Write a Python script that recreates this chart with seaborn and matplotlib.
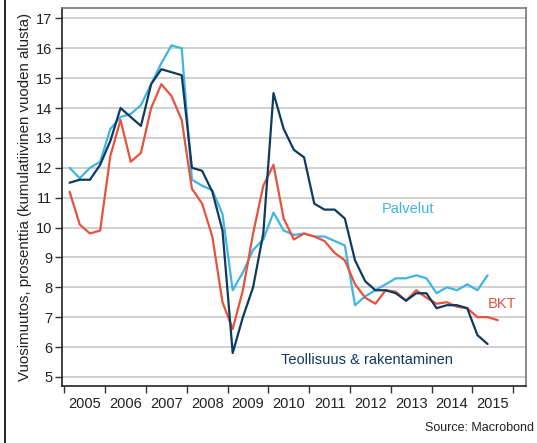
import numpy as np
import pandas as pd
import matplotlib.pyplot as plt
import seaborn as sns
from matplotlib.lines import Line2D

# Quarterly values, starting 2005Q1
teollisuus = [11.5, 11.6, 11.6, 12.1, 12.9, 14.0, 13.7, 13.4,
              14.8, 15.3, 15.2, 15.1, 12.0, 11.9, 11.2, 9.9,
              5.8, 7.0, 8.0, 9.8, 14.5, 13.3, 12.6, 12.35,
              10.8, 10.6, 10.6, 10.3, 8.9, 8.2, 7.9, 7.9,
              7.8, 7.55, 7.8, 7.8, 7.3, 7.4, 7.4, 7.3,
              6.4, 6.1]
palvelut = [12.0, 11.65, 12.0, 12.2, 13.3, 13.7, 13.8, 14.1,
            14.8, 15.5, 16.1, 16.0, 11.6, 11.4, 11.25, 10.45,
            7.9, 8.5, 9.25, 9.6, 10.5, 9.9, 9.75, 9.8,
            9.7, 9.7, 9.55, 9.4, 7.4, 7.7, 7.9, 8.1,
            8.3, 8.3, 8.4, 8.3, 7.8, 8.0, 7.9, 8.1,
            7.9, 8.4]
bkt = [11.2, 10.1, 9.8, 9.9, 12.4, 13.6, 12.2, 12.5,
       14.0, 14.8, 14.4, 13.6, 11.3, 10.8, 9.7, 7.5,
       6.6, 7.9, 9.8, 11.4, 12.1, 10.3, 9.6, 9.8,
       9.7, 9.55, 9.15, 8.9, 8.1, 7.65, 7.45, 7.9,
       7.85, 7.55, 7.9, 7.65, 7.45, 7.5, 7.35, 7.3,
       7.0, 7.0, 6.9]
years = list(range(2005, 2016))
yticks = list(range(5, 18))

navy = '#0e3a5f'
lblue = '#3fb5e3'
red = '#e5533d'

def quarters(n):
    return [2005 + (i + 0.5) / 4 for i in range(n)]

df = pd.concat([
    pd.DataFrame({'t': quarters(len(teollisuus)), 'v': teollisuus, 's': 'Teollisuus & rakentaminen'}),
    pd.DataFrame({'t': quarters(len(palvelut)), 'v': palvelut, 's': 'Palvelut'}),
    pd.DataFrame({'t': quarters(len(bkt)), 'v': bkt, 's': 'BKT'}),
])

sns.set_theme(style='white')
plt.rcParams['font.family'] = ['Liberation Sans', 'DejaVu Sans']

fig = plt.figure(figsize=(5.37, 4.43), dpi=100)
ax = fig.add_axes([0.1155, 0.129, 0.8635, 0.853])

ax.set_axisbelow(True)
ax.grid(axis='y', color='#c8c8c8', lw=1.2)

sns.lineplot(data=df, x='t', y='v', hue='s', ax=ax, lw=1.6,
             palette={'Teollisuus & rakentaminen': navy, 'Palvelut': lblue, 'BKT': red},
             hue_order=['Palvelut', 'BKT', 'Teollisuus & rakentaminen'], legend=False)

ax.set_xlim(2004.94, 2016.31)
ax.set_ylim(4.7, 17.35)
ax.set_yticks(yticks)
ax.set_xticks(years + [2016])
ax.set_xticklabels([])
ax.set_xticks([y + 0.5 for y in years], minor=True)
ax.set_xticklabels([str(y) for y in years], minor=True)
ax.tick_params(axis='x', which='major', bottom=True, direction='out', length=5, width=1, color='#333333')
ax.tick_params(axis='x', which='minor', bottom=False, labelsize=10.5, colors='#222222', pad=4)
ax.tick_params(axis='y', left=True, direction='out', length=5, width=1, color='#333333',
               labelsize=10.5, colors='#222222', pad=2)

for side in ['left', 'bottom']:
    ax.spines[side].set_color('#222222')
    ax.spines[side].set_linewidth(1.2)
for side in ['top', 'right']:
    ax.spines[side].set_color('#777777')
    ax.spines[side].set_linewidth(1.2)

ax.set_xlabel('')
ax.set_ylabel('Vuosimuutos, prosenttia (kumulatiivinen vuoden alusta)', fontsize=10.8, color='#222222', labelpad=3)

ax.text(2013.42, 10.62, 'Palvelut', color=lblue, fontsize=10.5, ha='center', va='center')
ax.text(2015.73, 7.45, 'BKT', color=red, fontsize=10.5, ha='center', va='center')
ax.text(2012.41, 5.57, 'Teollisuus & rakentaminen', color=navy, fontsize=10.5, ha='center', va='center')

fig.text(0.995, 0.033, 'Source: Macrobond', ha='right', va='center', fontsize=9, color='#222222')
fig.add_artist(Line2D([0.009, 0.009], [0, 1], transform=fig.transFigure, color='black', lw=1.2))

fig.savefig('out.png', dpi=100)
